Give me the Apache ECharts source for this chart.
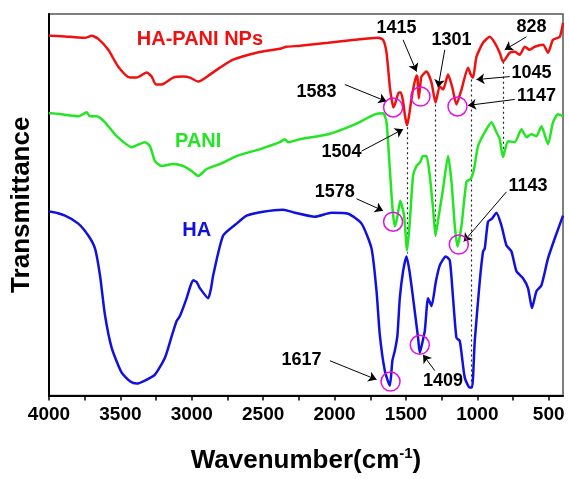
<!DOCTYPE html>
<html>
<head>
<meta charset="utf-8">
<script src="https://cdn.jsdelivr.net/npm/echarts@6/dist/echarts.min.js"></script>
<style>
  html, body { margin: 0; padding: 0; background: #fff; }
  #chart { width: 569px; height: 479px; }
</style>
</head>
<body>
<div id="chart"></div>
<script>
// wavenumber (cm-1) and transmittance (arbitrary, offset per curve)
const redWn = [4000, 3986, 3850, 3748, 3701, 3655, 3585, 3515, 3433, 3386, 3316, 3281, 3251, 3211, 3130, 3060, 3013, 2955, 2873, 2803, 2710, 2546, 2383, 2336, 2243, 2045, 1858, 1695, 1660, 1636, 1613, 1600, 1588, 1575, 1550, 1536, 1520, 1505, 1492, 1480, 1465, 1450, 1426, 1420, 1410, 1400, 1391, 1356, 1321, 1293, 1263, 1240, 1205, 1177, 1146, 1111, 1065, 1046, 1030, 1006, 960, 913, 878, 843, 820, 773, 738, 703, 668, 633, 598, 540, 505, 470, 423, 400];
const redT = [362, 362, 361, 360, 362, 359, 348, 331, 320, 320, 325, 321, 313, 313, 320, 321, 320, 316, 323, 330, 338, 345, 349, 351, 352, 355, 358, 360, 358, 345, 311, 298, 290, 294, 305, 305, 296, 280, 272, 280, 295, 308, 322, 321, 299, 312, 321, 326, 315, 295, 311, 308, 323, 311, 293, 308, 330, 323, 320, 341, 355, 361, 355, 345, 336, 345, 346, 343, 351, 348, 351, 353, 345, 358, 361, 375];

const greenWn = [4000, 3986, 3795, 3736, 3713, 3666, 3608, 3526, 3421, 3328, 3293, 3258, 3211, 3130, 3060, 3001, 2955, 2896, 2803, 2686, 2523, 2383, 2348, 2325, 2243, 2045, 1858, 1718, 1660, 1636, 1613, 1594, 1578, 1560, 1540, 1513, 1492, 1473, 1450, 1426, 1400, 1380, 1356, 1333, 1310, 1293, 1270, 1240, 1205, 1181, 1158, 1139, 1111, 1076, 1046, 1023, 995, 948, 901, 866, 843, 820, 785, 738, 691, 656, 621, 586, 551, 505, 470, 435, 400];
const greenT = [284, 284, 281, 285, 281, 281, 275, 261, 250, 255, 251, 236, 231, 233, 231, 226, 221, 228, 233, 241, 248, 255, 258, 255, 258, 263, 273, 283, 284, 275, 228, 188, 170, 180, 196, 181, 146, 175, 221, 231, 235, 241, 241, 221, 188, 161, 181, 208, 241, 215, 171, 150, 171, 215, 218, 228, 251, 265, 275, 265, 258, 240, 256, 255, 268, 260, 263, 261, 271, 253, 275, 283, 281];

const blueWn = [4000, 3986, 3888, 3795, 3725, 3678, 3643, 3608, 3561, 3491, 3430, 3386, 3328, 3258, 3188, 3140, 3106, 3083, 3036, 3010, 2990, 2965, 2943, 2885, 2865, 2850, 2780, 2686, 2616, 2500, 2360, 2278, 2138, 2021, 1905, 1811, 1741, 1706, 1683, 1648, 1613, 1595, 1578, 1560, 1543, 1520, 1496, 1475, 1450, 1415, 1403, 1390, 1368, 1345, 1321, 1290, 1263, 1221, 1193, 1170, 1146, 1123, 1088, 1053, 1037, 1018, 983, 960, 948, 925, 897, 866, 831, 796, 761, 726, 680, 645, 617, 586, 551, 505, 458, 400];
const blueT = [185, 185, 181, 173, 161, 148, 121, 81, 48, 23, 14, 12, 15, 21, 38, 60, 75, 80, 98, 110, 116, 114, 108, 98, 108, 121, 161, 173, 181, 185, 187, 184, 180, 184, 183, 173, 148, 105, 61, 25, 10, 35, 45, 60, 98, 125, 140, 125, 98, 58, 43, 50, 65, 98, 90, 115, 131, 140, 136, 98, 58, 55, 18, 8, 8, 55, 115, 145, 148, 175, 178, 184, 171, 151, 145, 125, 118, 108, 88, 105, 111, 138, 158, 181];

const tickValues = [4000, 3750, 3500, 3250, 3000, 2750, 2500, 2250, 2000, 1750, 1500, 1250, 1000, 750, 500];
const tickLabels = [4000, 3500, 3000, 2500, 2000, 1500, 1000, 500];

// curve names and where they are written
const curveNames = ['HA-PANI NPs', 'PANI', 'HA'];
const curveNameAt = [[2943, 358], [2955, 256], [2966, 166]];

// peak annotations
const peakText = ['1415', '1301', '828', '1045', '1147', '1583', '1504', '1578', '1143', '1617', '1409'];
const peakTextAt = [[1566, 370], [1181, 358], [621, 371], [621, 325], [586, 301], [2126, 305], [1951, 245], [1998, 205], [645, 211], [2231, 36], [1240, 15]];
const arrowFrom = [[1520, 358], [1228, 348], [656, 361], [773, 321], [738, 298], [1928, 313], [1811, 246], [1846, 198], [796, 205], [2033, 35], [1298, 25]];
const arrowTo = [[1426, 326], [1275, 310], [808, 348], [1006, 318], [1065, 292], [1636, 296], [1520, 268], [1660, 186], [1095, 155], [1706, 16], [1380, 41]];
const circleAt = [[1590, 290], [1398, 301], [1139, 291], [1590, 175], [1130, 152], [1403, 51], [1608, 14]];
// dotted guide lines: wavenumber, top, bottom
const guideLines = [[1494, 270, 143], [1293, 293, 158], [1041, 318, 11], [820, 336, 243]];

const colors = ['#f01010', '#22e622', '#1010e0'];
const font = 'Liberation Sans, Arial, sans-serif';

function zip(xs, ys) {
  return xs.map((x, i) => [x, ys[i]]);
}

let chart = echarts.init(document.getElementById('chart'));

let curves = [zip(redWn, redT), zip(greenWn, greenT), zip(blueWn, blueT)].map((d, i) => ({
  type: 'line',
  data: d,
  showSymbol: false,
  smooth: 0.2,
  lineStyle: { color: colors[i], width: 2.5 },
  z: 3
}));

let option = {
  animation: false,
  grid: { left: 49, right: 6, top: 14, bottom: 81, show: true, borderColor: '#555', borderWidth: 1.5 },
  xAxis: {
    type: 'value',
    inverse: true,
    min: 400,
    max: 4000,
    axisLine: { onZero: false, lineStyle: { color: '#000', width: 2 } },
    axisTick: { show: true, inside: false, length: 5, customValues: tickValues, lineStyle: { color: '#000', width: 1.5 } },
    axisLabel: {
      customValues: tickLabels,
      formatter: v => String(v),
      fontSize: 19,
      fontWeight: 'bold',
      color: '#000',
      margin: 10,
      fontFamily: font
    },
    splitLine: { show: false },
    name: 'Wavenumber(cm{sup|-1})',
    nameLocation: 'middle',
    nameGap: 51,
    nameTextStyle: {
      fontSize: 26, fontWeight: 'bold', color: '#000', fontFamily: font,
      rich: { sup: { fontSize: 15, fontWeight: 'bold', color: '#000', fontFamily: font, padding: [0, 0, 14, 0] } }
    }
  },
  yAxis: {
    type: 'value',
    min: 0,
    max: 384,
    axisLine: { show: true, onZero: false, lineStyle: { color: '#000', width: 2 } },
    axisTick: { show: false },
    axisLabel: { show: false },
    splitLine: { show: false },
    name: 'Transmittance',
    nameLocation: 'middle',
    nameGap: 14,
    nameTextStyle: { fontSize: 26, fontWeight: 'bold', color: '#000', fontFamily: font }
  },
  series: curves.concat([
    {
      type: 'lines',
      coordinateSystem: 'cartesian2d',
      data: guideLines.map(g => ({ coords: [[g[0], g[1]], [g[0], g[2]]] })),
      symbol: ['none', 'none'],
      lineStyle: { color: '#222', width: 1.2, type: [2, 3], opacity: 1 },
      z: 2
    },
    {
      type: 'lines',
      coordinateSystem: 'cartesian2d',
      data: arrowFrom.map((a, i) => ({ coords: [a, arrowTo[i]] })),
      symbol: ['none', 'arrow'],
      symbolSize: 8,
      lineStyle: { color: '#000', width: 1, opacity: 1 },
      z: 4
    },
    {
      type: 'scatter',
      data: circleAt,
      symbol: 'circle',
      symbolSize: 19,
      itemStyle: { color: 'rgba(0,0,0,0)', borderColor: '#e010e0', borderWidth: 1.5, opacity: 1 },
      z: 5
    }
  ])
};

chart.setOption(option);

// text annotations placed through the chart's own scales
let texts = [];
peakTextAt.forEach((p, i) => {
  let xy = chart.convertToPixel({ gridIndex: 0 }, p);
  texts.push({
    type: 'text', x: xy[0], y: xy[1], z: 100,
    style: { text: peakText[i], fill: '#000', font: 'bold 18px ' + font, align: 'center', verticalAlign: 'middle' }
  });
});
curveNameAt.forEach((p, i) => {
  let xy = chart.convertToPixel({ gridIndex: 0 }, p);
  texts.push({
    type: 'text', x: xy[0], y: xy[1], z: 100,
    style: { text: curveNames[i], fill: colors[i], font: 'bold 20px ' + font, align: 'center', verticalAlign: 'middle' }
  });
});
chart.setOption({ graphic: texts });
</script>
</body>
</html>
